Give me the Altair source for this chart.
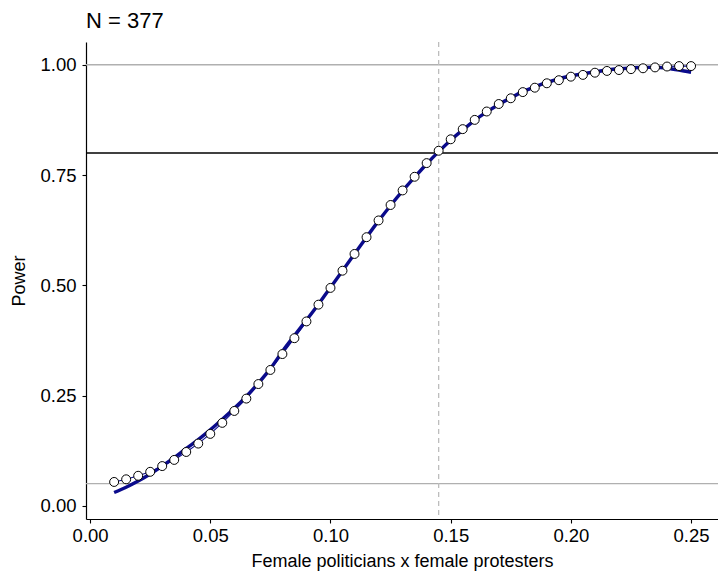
import altair as alt
import pandas as pd

# ---- data ----
effect = [0.010, 0.015, 0.020, 0.025, 0.030, 0.035, 0.040, 0.045, 0.050, 0.055,
          0.060, 0.065, 0.070, 0.075, 0.080, 0.085, 0.090, 0.095, 0.100, 0.105,
          0.110, 0.115, 0.120, 0.125, 0.130, 0.135, 0.140, 0.145, 0.150, 0.155,
          0.160, 0.165, 0.170, 0.175, 0.180, 0.185, 0.190, 0.195, 0.200, 0.205,
          0.210, 0.215, 0.220, 0.225, 0.230, 0.235, 0.240, 0.245, 0.250]
power = [0.054, 0.060, 0.068, 0.077, 0.090, 0.104, 0.122, 0.141, 0.163, 0.188,
         0.215, 0.243, 0.276, 0.308, 0.344, 0.380, 0.418, 0.456, 0.494, 0.533,
         0.571, 0.609, 0.647, 0.682, 0.715, 0.746, 0.777, 0.805, 0.831, 0.854,
         0.875, 0.894, 0.911, 0.924, 0.938, 0.948, 0.958, 0.965, 0.973, 0.977,
         0.982, 0.986, 0.988, 0.990, 0.992, 0.994, 0.996, 0.997, 0.997]
# smoothed fit (thick line), read at the same effect sizes
smooth_power = [0.030, 0.042, 0.056, 0.072, 0.090, 0.109, 0.130, 0.150, 0.172, 0.196,
                0.221, 0.248, 0.278, 0.311, 0.350, 0.386, 0.421, 0.457, 0.495, 0.533,
                0.571, 0.609, 0.646, 0.681, 0.714, 0.745, 0.775, 0.803, 0.829, 0.852,
                0.874, 0.893, 0.910, 0.925, 0.939, 0.950, 0.960, 0.968, 0.975, 0.980,
                0.984, 0.988, 0.991, 0.993, 0.994, 0.994, 0.992, 0.988, 0.983]
grey_lines = [0.05, 1.00]
target_power = [0.80]
min_effect = [0.145]
x_ticks = [0.00, 0.05, 0.10, 0.15, 0.20, 0.25]
y_ticks = [0.00, 0.25, 0.50, 0.75, 1.00]
title_text = "N = 377"
x_title = "Female politicians x female protesters"
y_title = "Power"

df = pd.DataFrame({"effect": effect, "power": power, "smooth": smooth_power})
df_grey = pd.DataFrame({"y": grey_lines})
df_black = pd.DataFrame({"y": target_power})
df_v = pd.DataFrame({"x": min_effect})

NAVY = "#0B0B8C"
xscale = alt.Scale(domain=[-0.0017, 0.2612], nice=False, zero=False)
yscale = alt.Scale(domain=[-0.030, 1.0516], nice=False, zero=False)

xenc = alt.X("effect:Q", scale=xscale, title=x_title,
             axis=alt.Axis(values=x_ticks, format=".2f"))
yenc = alt.Y("power:Q", scale=yscale, title=y_title,
             axis=alt.Axis(values=y_ticks, format=".2f", labelPadding=6))

grey = alt.Chart(df_grey).mark_rule(color="#B0B0B0", strokeWidth=1.3).encode(
    y=alt.Y("y:Q", scale=yscale))
black = alt.Chart(df_black).mark_rule(color="black", strokeWidth=1.4).encode(
    y=alt.Y("y:Q", scale=yscale))
vline = alt.Chart(df_v).mark_rule(color="#BDBDBD", strokeWidth=1.3,
                                  strokeDash=[5, 4]).encode(
    x=alt.X("x:Q", scale=xscale))

base = alt.Chart(df)
thin = base.mark_line(color=NAVY, strokeWidth=1.1).encode(x=xenc, y=yenc)
smooth = base.mark_line(color=NAVY, strokeWidth=3.4, interpolate="monotone").encode(
    x=xenc, y=alt.Y("smooth:Q", scale=yscale))
pts = base.mark_point(shape="circle", filled=True, fill="white", stroke="black",
                      strokeWidth=1, size=80, opacity=1).encode(x=xenc, y=yenc)

chart = alt.layer(grey, black, vline, smooth, thin, pts).properties(
    width=632, height=477,
    title=alt.TitleParams(title_text, anchor="start", frame="group",
                          fontSize=22, font="Liberation Sans", fontWeight="normal",
                          color="black", baseline="alphabetic", offset=15, dy=24),
    autosize=alt.AutoSizeParams(type="none"),
    padding={"left": 86, "top": 42, "right": 0, "bottom": 54},
).configure_view(stroke=None).configure_axis(
    grid=False, domainColor="black", domainWidth=1.2, tickColor="black",
    tickWidth=1.1, tickSize=4, labelFont="Liberation Sans", labelFontSize=18.5,
    labelColor="black", titleFont="Liberation Sans", titleFontSize=18,
    titleFontWeight="normal", titleColor="black", labelPadding=3,
).configure_axisX(titlePadding=8).configure_axisY(titlePadding=11)

chart.save("out.html", embed_options={"renderer": "svg", "actions": False})
